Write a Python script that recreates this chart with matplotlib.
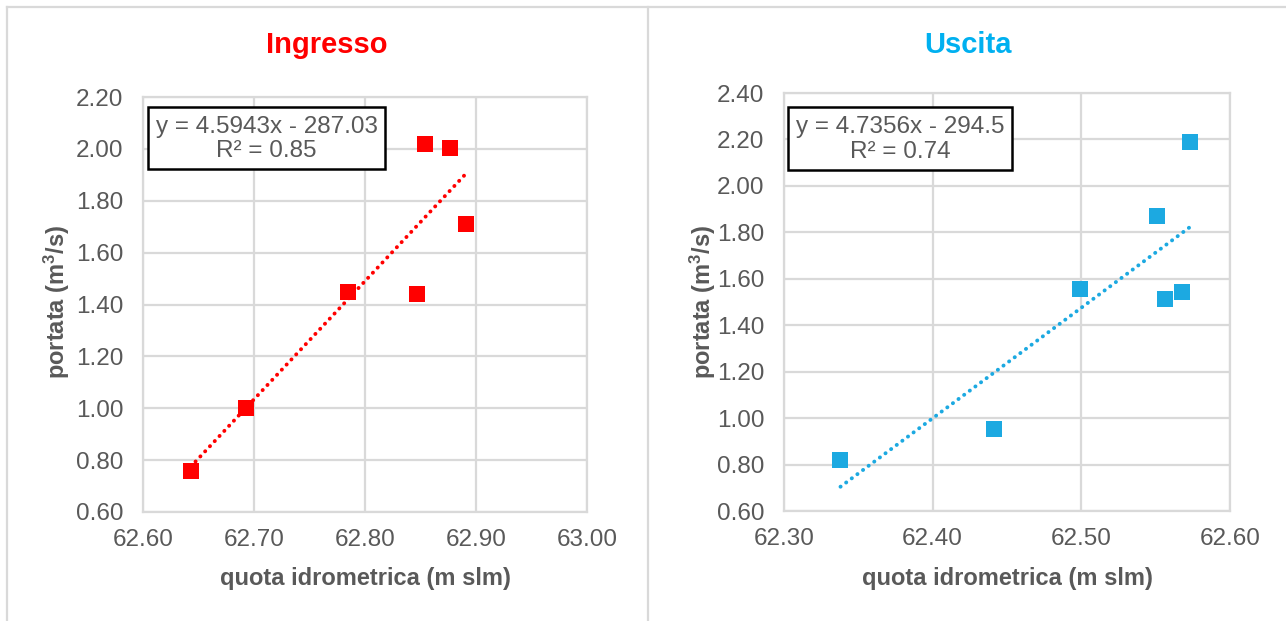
import numpy as np
import matplotlib
matplotlib.use("Agg")
import matplotlib.pyplot as plt
from matplotlib.lines import Line2D
from matplotlib.patches import Rectangle

# ---- data ----
in_quota = [62.643, 62.693, 62.785, 62.847, 62.854, 62.877, 62.891]
in_portata = [0.76, 1.00, 1.45, 1.44, 2.02, 2.005, 1.71]
out_quota = [62.338, 62.441, 62.499, 62.551, 62.556, 62.568, 62.573]
out_portata = [0.82, 0.955, 1.555, 1.87, 1.515, 1.545, 2.19]

in_xticks = [62.60, 62.70, 62.80, 62.90, 63.00]
in_yticks = [0.60, 0.80, 1.00, 1.20, 1.40, 1.60, 1.80, 2.00, 2.20]
out_xticks = [62.30, 62.40, 62.50, 62.60]
out_yticks = [0.60, 0.80, 1.00, 1.20, 1.40, 1.60, 1.80, 2.00, 2.20, 2.40]

titles = ["Ingresso", "Uscita"]
equations = ["y = 4.5943x - 287.03\nR² = 0.85", "y = 4.7356x - 294.5\nR² = 0.74"]
xlabel = "quota idrometrica (m slm)"
ylabel = "portata (m$^{3}$/s)"

RED = "#FF0000"
BLUE = "#1CA9E1"
TITLE_BLUE = "#00B0F0"
GRAY = "#595959"
GRID = "#D9D9D9"

plt.rcParams["font.family"] = ["Liberation Sans", "DejaVu Sans"]
plt.rcParams["mathtext.fontset"] = "custom"
plt.rcParams["mathtext.rm"] = "Liberation Sans:bold"
plt.rcParams["mathtext.it"] = "Liberation Sans:bold"
plt.rcParams["mathtext.bf"] = "Liberation Sans:bold"

W, H = 1286, 621
fig = plt.figure(figsize=(W / 100, H / 100), dpi=100)
fig.patch.set_facecolor("white")


def fx(px):
    return px / W


def fy(py):
    return 1 - py / H


# frame lines
for (x0, y0, x1, y1) in [(7, 7, W, 7), (7, 7, 7, H), (648, 7, 648, H)]:
    fig.add_artist(Line2D([fx(x0), fx(x1)], [fy(y0), fy(y1)], color=GRID,
                          lw=1.6, transform=fig.transFigure))

panels = [
    dict(rect=(143, 97, 587, 512), x=in_quota, y=in_portata, xt=in_xticks, yt=in_yticks,
         col=RED, tcol=RED, title=titles[0], title_x=327, xl_x=365, yl_x=57,
         box=(148, 107, 385, 169), eq=equations[0]),
    dict(rect=(784, 93, 1230, 511), x=out_quota, y=out_portata, xt=out_xticks, yt=out_yticks,
         col=BLUE, tcol=TITLE_BLUE, title=titles[1], title_x=968, xl_x=1007, yl_x=703,
         box=(788, 107, 1012, 170), eq=equations[1]),
]

for p in panels:
    l, t, r, b = p["rect"]
    ax = fig.add_axes([fx(l), fy(b), fx(r) - fx(l), (b - t) / H])
    ax.set_xlim(p["xt"][0], p["xt"][-1])
    ax.set_ylim(p["yt"][0], p["yt"][-1])
    ax.set_xticks(p["xt"])
    ax.set_yticks(p["yt"])
    ax.set_xticklabels([f"{v:.2f}" for v in p["xt"]])
    ax.set_yticklabels([f"{v:.2f}" for v in p["yt"]])
    ax.grid(True, color=GRID, lw=1.6)
    ax.set_axisbelow(True)
    for s in ax.spines.values():
        s.set_color(GRID)
        s.set_linewidth(1.6)
    ax.tick_params(length=0, labelsize=17.5, labelcolor=GRAY)
    ax.tick_params(axis="y", pad=14)
    ax.tick_params(axis="x", pad=12)

    xs = np.array(p["x"])
    ys = np.array(p["y"])
    k, c = np.polyfit(xs, ys, 1)
    xx = np.array([xs.min(), xs.max()])
    ax.plot(xx, k * xx + c, color=p["col"], lw=2.8, linestyle=(0, (0.05, 1.75)),
            dash_capstyle="round", zorder=2)
    ax.plot(xs, ys, linestyle="none", marker="s", markersize=11, color=p["col"],
            markeredgewidth=0, zorder=3)

    fig.text(fx(p["title_x"]), fy(45), p["title"], color=p["tcol"], fontsize=21,
             fontweight="bold", ha="center", va="center")
    fig.text(fx(p["xl_x"]), fy(578), xlabel, color=GRAY, fontsize=17,
             fontweight="bold", ha="center", va="center")
    fig.text(fx(p["yl_x"]), fy(302), ylabel, color=GRAY, fontsize=17,
             fontweight="bold", ha="center", va="center", rotation=90)

    bl, bt, br, bb = p["box"]
    fig.add_artist(Rectangle((fx(bl), fy(bb)), fx(br) - fx(bl), (bb - bt) / H,
                             transform=fig.transFigure, facecolor="white",
                             edgecolor="black", lw=1.8, zorder=5))
    fig.text(fx((bl + br) / 2), fy((bt + bb) / 2 + 1), p["eq"], color=GRAY, fontsize=17.5,
             ha="center", va="center", multialignment="center", linespacing=1.15,
             zorder=6)

fig.savefig("out.png", dpi=100)
